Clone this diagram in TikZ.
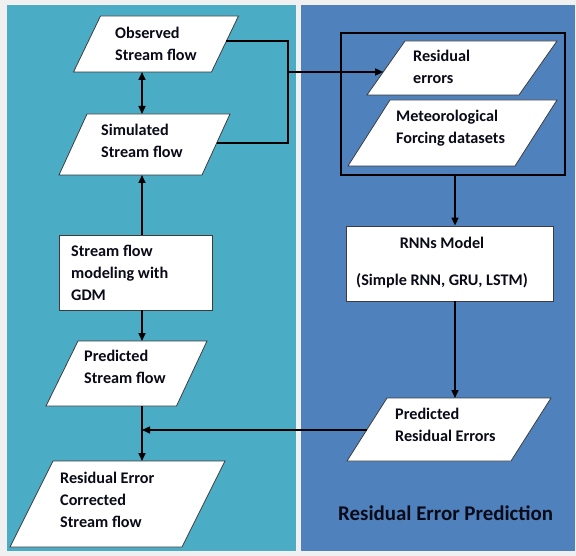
\documentclass[tikz,border=0pt]{standalone}
\usepackage{fontspec}
\setmainfont{Carlito}
\usetikzlibrary{arrows.meta,calc}
\definecolor{bgc}{RGB}{240,240,240}
\definecolor{panelA}{RGB}{75,172,198}
\definecolor{panelB}{RGB}{79,129,189}
\definecolor{txt}{RGB}{10,10,24}
\definecolor{edge}{RGB}{60,60,60}
\newcommand\parashape[5]{% name, tl, tr, br, bl
  \coordinate (#1-tl) at (#2);
  \coordinate (#1-tr) at (#3);
  \coordinate (#1-br) at (#4);
  \coordinate (#1-bl) at (#5);
  \draw[shapebox] (#1-tl) -- (#1-tr) -- (#1-br) -- (#1-bl) -- cycle;}
\begin{document}
\begin{tikzpicture}[x=1pt,y=-1pt,
  shapebox/.style={draw=edge, line width=0.8pt, fill=white},
  conn/.style={line width=1.6pt, draw=black},
  arr/.style={conn, -{Triangle[length=8pt,width=7pt]}},
  darr/.style={conn, {Triangle[length=8pt,width=7pt]}-{Triangle[length=8pt,width=7pt]}},
  lbl/.style={font=\bfseries\fontsize{16.2}{22}\selectfont, text=txt, align=left, inner sep=0pt, anchor=north west},
  title/.style={font=\bfseries\fontsize{20.9}{24}\selectfont, text=txt, inner sep=0pt, anchor=base west}]
\useasboundingbox (0,0) rectangle (576,556);
\fill[bgc] (0,0) rectangle (576,556);
\fill[panelA] (7,5) rectangle (296,551);
\fill[panelB] (301,5) rectangle (575,551);

% left column shapes
\parashape{obs}{100.5,16}{238.5,16}{211.5,72}{73.5,72}
\parashape{sim}{87,114}{230,114}{202,175}{59,175}
\node[shapebox, rectangle, minimum width=153pt, minimum height=75pt, inner sep=0pt] (gdm) at (135.5,272.5) {};
\parashape{ps}{78,341}{207,341}{176.5,406}{46,406}
\parashape{rec}{53,461}{225,461}{182,547}{10,547}

% right column shapes
\node[draw=black, line width=2pt, minimum width=224pt, minimum height=142pt, inner sep=0pt] (inbox) at (453,104) {};
\parashape{res}{405,41}{557,41}{519,95}{367,95}
\parashape{met}{390,100}{557,100}{515,166}{348,166}
\node[shapebox, rectangle, minimum width=207pt, minimum height=75pt, inner sep=0pt] (rnn) at (449.5,263.5) {};
\parashape{pre}{387,398}{551,398}{511,461}{347,461}

% labels
\node[lbl] (tobs) at (115,22.6) {\strut Observed\\\strut Stream flow};
\node[lbl] (tsim) at (101,119.6) {\strut Simulated\\\strut Stream flow};
\node[lbl] (tgdm) at (71,240.6) {\strut Stream flow\\\strut modeling with\\\strut GDM};
\node[lbl] (tps) at (84,346.3) {\strut Predicted\\\strut Stream flow};
\node[lbl] (trec) at (60,467.6) {\strut Residual Error\\\strut Corrected\\\strut Stream flow};
\node[lbl] (tres) at (413,46.3) {\strut Residual\\\strut errors};
\node[lbl] (tmet) at (396,106.3) {\strut Meteorological\\\strut Forcing datasets};
\node[lbl, align=center, anchor=north] (trnn) at (442,232.6) {\strut RNNs Model\\[15pt]\strut (Simple RNN, GRU, LSTM)};
\node[lbl] (tpre) at (395,403.6) {\strut Predicted\\\strut Residual Errors};
\node[title] (ttl) at (338,520) {Residual Error Prediction};

% connectors
\coordinate (spine) at (142,0);
\coordinate (bus) at (288,72);
\coordinate (rspine) at (455,0);
\draw[darr] (spine |- obs-bl) -- (spine |- sim-tl);
\draw[arr] (spine |- gdm.north) -- (spine |- sim-bl);
\draw[arr] (spine |- gdm.south) -- (spine |- ps-tl);
\draw[arr] (spine |- ps-bl) -- (spine |- rec-tl);
\draw[conn] ($(obs-tr)!0.45!(obs-br)$) -| (bus) |- ($(sim-tr)!0.475!(sim-br)$);
\draw[arr] (bus) -- ($(res-tl)!0.574!(res-bl)$);
\draw[arr] (rspine |- inbox.south) -- (rspine |- rnn.north);
\draw[arr] (rspine |- rnn.south) -- (rspine |- pre-tl);
\draw[arr] ($(pre-tl)!0.508!(pre-bl)$) -- (spine |- {$(pre-tl)!0.508!(pre-bl)$});
\end{tikzpicture}
\end{document}
